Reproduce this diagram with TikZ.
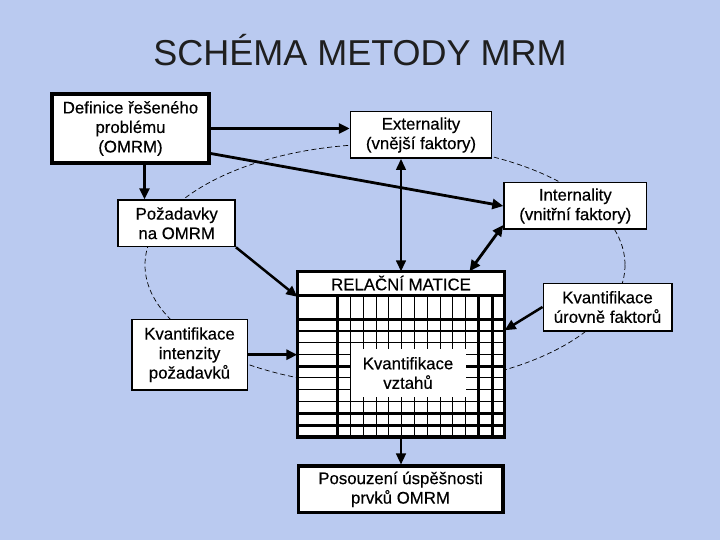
\documentclass[tikz,border=0pt]{standalone}
\usepackage{fontspec}
\setmainfont{Liberation Sans}
\newfontfamily\boxfont[FakeBold=0.4]{Liberation Sans}
\usetikzlibrary{arrows.meta,calc}
\definecolor{bg}{RGB}{186,202,240}
\begin{document}
\begin{tikzpicture}[x=1pt,y=-1pt,
  lbl/.style={font=\boxfont\fontsize{16.8}{19.5}\selectfont, align=center, text=black},
  box/.style={draw=black, fill=white, line width=1.5pt, inner sep=0pt, lbl},
  thickbox/.style={box, line width=3.5pt},
  arr/.style={-{Triangle[length=11pt,width=10pt]}, line width=2.8pt},
  darr/.style={{Triangle[length=11pt,width=10pt]}-{Triangle[length=11pt,width=10pt]}},
  thingrid/.style={line width=1.1pt},
  thickgrid/.style={line width=3pt},
  ell/.style={line width=0.7pt, dash pattern=on 5pt off 3pt}]
% background
\fill[bg] (0,0) rectangle (720,540);
\useasboundingbox (0,0) rectangle (720,540);
% title
\node[anchor=base, font=\fontsize{36}{40}\selectfont, text={black!88}] (title) at (360,66) {SCHÉMA METODY MRM};
% dashed ellipse
\draw[ell] (385,265) ellipse [x radius=240, y radius=121];
% boxes
\node[thickbox, minimum width=157pt, minimum height=69pt] (def) at (130.5,128.5) {Definice řešeného\\problému\\(OMRM)};
\node[box, minimum width=141pt, minimum height=46.5pt] (ext) at (421,135) {Externality\\(vnější faktory)};
\node[box, minimum width=142.5pt, minimum height=46.5pt] (int) at (575.3,206) {Internality\\(vnitřní faktory)};
\node[box, minimum width=117pt, minimum height=46.5pt] (poz) at (176.7,223.3) {Požadavky\\na OMRM};
\node[box, minimum width=115.5pt, minimum height=70.5pt] (kvi) at (189.5,354.7) {Kvantifikace\\intenzity\\požadavků};
\node[box, minimum width=128.5pt, minimum height=47.5pt] (kvu) at (607.5,307) {Kvantifikace\\úrovně faktorů};
\node[thickbox, minimum width=204.5pt, minimum height=46.5pt] (pos) at (400.5,489.4) {Posouzení úspěšnosti\\prvků OMRM};
% matrix
\node[fill=white, inner sep=0pt, minimum width=207pt, minimum height=165.5pt] (mat) at (401,354.25) {};
\foreach \yy in {331,342.6,354.3,377.8,389.5,401.3}
  \draw[thingrid] (297.5,\yy) -- (504.5,\yy);
\foreach \k in {1,...,10}
  \draw[thingrid] ({337.7+12.8*\k},295) -- ({337.7+12.8*\k},437);
\foreach \yy in {295,319.5,366,413,425}
  \draw[thickgrid] (297.5,\yy) -- (504.5,\yy);
\foreach \xx in {337.7,478.3,492.5}
  \draw[thickgrid] (\xx,295) -- (\xx,437);
\node[fill=white, inner sep=0pt, minimum width=115pt, minimum height=48pt, lbl] (kvv) at (408,373) {Kvantifikace\\vztahů};
\node[lbl, inner sep=0pt] (rel) at (401,283) {RELAČNÍ MATICE};
\draw[line width=3.5pt] (mat.north west) rectangle (mat.south east);
% connectors
\draw[arr] (def.east) -- (def.east -| ext.west);
\draw[arr] ([yshift=-25pt]def.east) -- (int.west);
\draw[arr] ([xshift=14pt]def.south) -- ([xshift=14pt]def.south |- poz.north);
\draw[arr, line width=2.5pt] (poz.south east) -- ([yshift=-25.5pt]mat.north west);
\draw[darr, line width=1.5pt] (mat.north) -- (mat.north |- ext.south);
\draw[darr, line width=2.8pt] ([xshift=68.5pt]mat.north) -- ([yshift=5pt]int.south west);
\draw[arr, line width=2.5pt] (kvu.west) -- ([yshift=24pt]mat.east);
\draw[arr] (kvi.east) -- (kvi.east -| mat.west);
\draw[arr, line width=1.5pt] (mat.south) -- (mat.south |- pos.north);
\end{tikzpicture}
\end{document}
